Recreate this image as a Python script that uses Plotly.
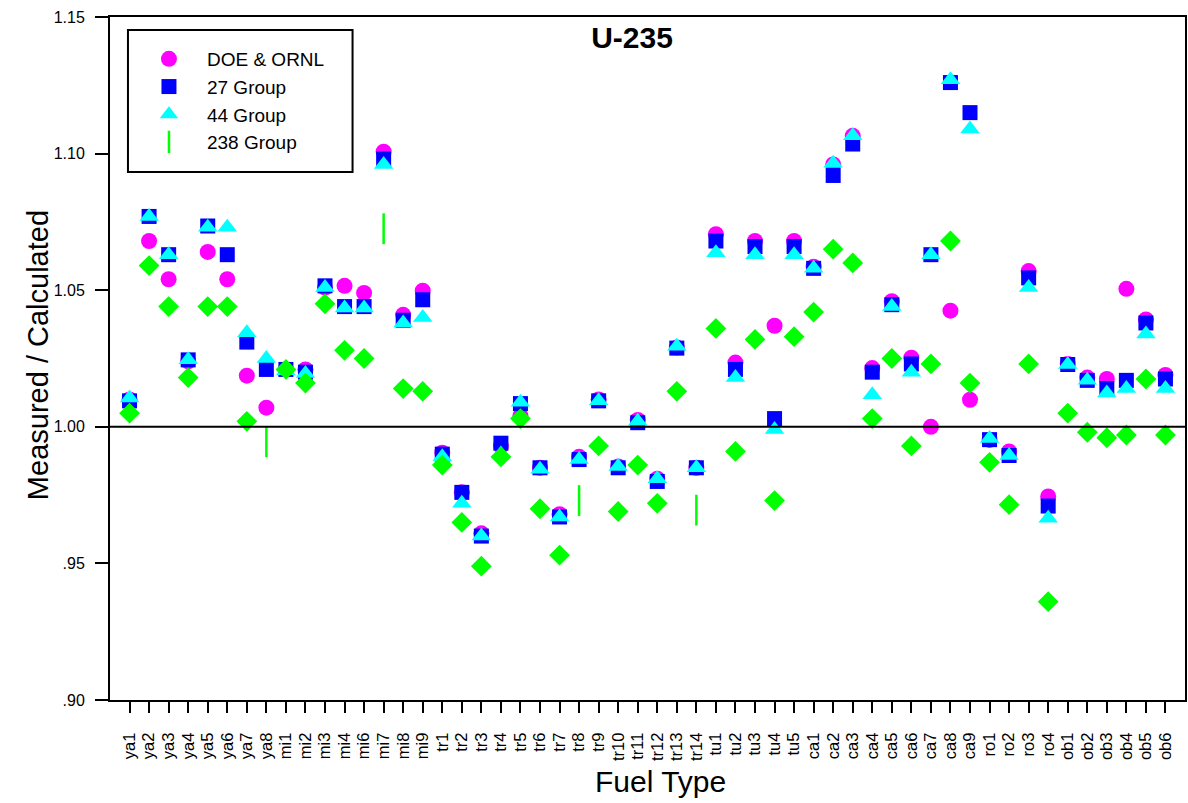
import plotly.graph_objects as go

categories = ["ya1", "ya2", "ya3", "ya4", "ya5", "ya6", "ya7", "ya8",
              "mi1", "mi2", "mi3", "mi4", "mi6", "mi7", "mi8", "mi9",
              "tr1", "tr2", "tr3", "tr4", "tr5", "tr6", "tr7", "tr8", "tr9", "tr10",
              "tr11", "tr12", "tr13", "tr14",
              "tu1", "tu2", "tu3", "tu4", "tu5",
              "ca1", "ca2", "ca3", "ca4", "ca5", "ca6", "ca7", "ca8", "ca9",
              "ro1", "ro2", "ro3", "ro4",
              "ob1", "ob2", "ob3", "ob4", "ob5", "ob6"]

doe_ornl = [1.010, 1.068, 1.054, 1.024, 1.064, 1.054, 1.0187, 1.007,
            1.021, 1.021, 1.051, 1.0516, 1.049, 1.1007, 1.041, 1.0498,
            0.9905, 0.976, 0.961, 0.993, 1.004, 0.985, 0.968, 0.989, 1.010, 0.9855,
            1.0025, 0.981, 1.029, 0.985,
            1.0705, 1.0235, 1.068, 1.037, 1.068,
            1.0586, 1.096, 1.1065, 1.0215, 1.046, 1.0253, 1.000, 1.0425, 1.0099,
            0.9952, 0.991, 1.057, 0.9745,
            1.023, 1.018, 1.0175, 1.0505, 1.0393, 1.019]

group27 = [1.0095, 1.077, 1.063, 1.0245, 1.0735, 1.063, 1.031, 1.021,
           1.021, 1.020, 1.0516, 1.044, 1.044, 1.098, 1.039, 1.0465,
           0.990, 0.976, 0.960, 0.994, 1.0085, 0.985, 0.967, 0.988, 1.0095, 0.985,
           1.0015, 0.980, 1.0288, 0.985,
           1.068, 1.021, 1.066, 1.003, 1.066,
           1.058, 1.092, 1.1035, 1.020, 1.0447, 1.023, 1.063, 1.126, 1.115,
           0.9953, 0.9895, 1.0545, 0.971,
           1.0228, 1.017, 1.014, 1.017, 1.038, 1.0175]

group44 = [1.0105, 1.077, 1.063, 1.0245, 1.073, 1.073, 1.0344, 1.025,
           1.0205, 1.0195, 1.051, 1.0435, 1.0435, 1.096, 1.038, 1.040,
           0.989, 0.972, 0.960, 0.990, 1.009, 0.9845, 0.967, 0.988, 1.0095, 0.9855,
           1.002, 0.981, 1.0295, 0.985,
           1.0637, 1.018, 1.063, 0.999, 1.063,
           1.058, 1.0965, 1.1065, 1.0117, 1.044, 1.020, 1.063, 1.127, 1.109,
           0.9957, 0.9895, 1.051, 0.9665,
           1.0228, 1.017, 1.0124, 1.014, 1.034, 1.014]

group238_diamond = [1.005, 1.059, 1.044, 1.018, 1.044, 1.044, 1.002, None,
                    1.021, 1.016, 1.045, 1.028, 1.025, None, 1.014, 1.013,
                    0.986, 0.965, 0.949, 0.989, 1.003, 0.970, 0.953, None, 0.993, 0.969,
                    0.986, 0.972, 1.013, None,
                    1.036, 0.991, 1.032, 0.973, 1.033,
                    1.042, 1.065, 1.060, 1.003, 1.025, 0.993, 1.023, 1.068, 1.016,
                    0.987, 0.9715, 1.023, 0.936,
                    1.005, 0.998, 0.996, 0.997, 1.0175, 0.997]

group238_line = [None, None, None, None, None, None, None, 0.9945,
                 None, None, None, None, None, 1.0725, None, None,
                 None, None, None, None, None, None, None, 0.973, None, None,
                 None, None, None, 0.9695,
                 None, None, None, None, None,
                 None, None, None, None, None, None, None, None, None,
                 None, None, None, None,
                 None, None, None, None, None, None]

y_tickvals = [0.90, 0.95, 1.00, 1.05, 1.10, 1.15]
y_ticktext = [".90", ".95", "1.00", "1.05", "1.10", "1.15"]

FONT = "Liberation Sans, Arial, sans-serif"

# plot-area pixel geometry helpers (for layout placement only)
W, H = 1188, 803
PL, PR, PT, PB = 110, 1187, 17, 700
def px_x(p):
    return (p - PL) / (PR - PL)
def px_y(p):
    return 1 - (p - PT) / (PB - PT)

fig = go.Figure()
fig.add_trace(go.Scatter(x=categories, y=doe_ornl, mode="markers", name="DOE & ORNL",
                         marker=dict(symbol="circle", size=16, color="#FF00FF", line=dict(width=0))))
fig.add_trace(go.Scatter(x=categories, y=group27, mode="markers", name="27 Group",
                         marker=dict(symbol="square", size=15, color="#0000FF", line=dict(width=0))))
fig.add_trace(go.Scatter(x=categories, y=group44, mode="markers", name="44 Group",
                         marker=dict(symbol="triangle-up", size=17, color="#00FFFF", line=dict(width=0))))
fig.add_trace(go.Scatter(x=categories, y=group238_diamond, mode="markers", name="238 Group",
                         showlegend=False, legendgroup="g238",
                         marker=dict(symbol="diamond", size=16, color="#00FF00", line=dict(width=0))))
fig.add_trace(go.Scatter(x=categories, y=group238_line, mode="markers", name="238 Group",
                         legendgroup="g238",
                         marker=dict(symbol="line-ns", size=22, color="#00FF00",
                                     line=dict(width=2.5, color="#00FF00"))))
# empty trace that carries the label-only overlay axes
fig.add_trace(go.Scatter(x=[None], y=[None], xaxis="x2", yaxis="y2", mode="markers",
                         showlegend=False, hoverinfo="skip"))

fig.add_hline(y=1.0, line=dict(color="black", width=2))

# legend frame
fig.add_shape(type="rect", xref="paper", yref="paper",
              x0=px_x(128), x1=px_x(353), y0=px_y(172), y1=px_y(30),
              line=dict(color="black", width=2), fillcolor="rgba(0,0,0,0)", layer="above")

# axis titles
fig.add_annotation(text="Measured / Calculated", xref="paper", yref="paper",
                   x=px_x(38), y=px_y(355), xanchor="center", yanchor="middle",
                   textangle=-90, showarrow=False, font=dict(size=29, family=FONT))
fig.add_annotation(text="Fuel Type", xref="paper", yref="paper",
                   x=px_x(662), y=px_y(781), xanchor="center", yanchor="middle",
                   showarrow=False, font=dict(size=30, family=FONT))

fig.update_layout(
    width=W, height=H,
    margin=dict(l=PL, r=W - PR, t=PT, b=H - PB),
    paper_bgcolor="white", plot_bgcolor="white",
    font=dict(family=FONT, color="black"),
    title=dict(text="<b>U-235</b>", x=632 / W, xanchor="center",
               y=1 - 37 / H, yanchor="middle", font=dict(size=30, family=FONT)),
    showlegend=True,
    legend=dict(x=px_x(131), y=px_y(40), xanchor="left", yanchor="top",
                borderwidth=0, bgcolor="rgba(0,0,0,0)",
                font=dict(size=19, family=FONT), itemsizing="trace",
                tracegroupgap=0, itemwidth=66),
    xaxis=dict(type="category", categoryorder="array", categoryarray=categories,
               range=[-1, 54], showticklabels=False,
               ticks="outside", ticklen=11, tickwidth=2, tickcolor="black",
               showline=True, linecolor="black", linewidth=2, mirror=True,
               showgrid=False, zeroline=False),
    yaxis=dict(range=[0.90, 1.15], tickvals=y_tickvals, showticklabels=False,
               ticks="outside", ticklen=13, tickwidth=2, tickcolor="black",
               showline=True, linecolor="black", linewidth=2, mirror=True,
               showgrid=False, zeroline=False),
    xaxis2=dict(overlaying="x", anchor="y2", side="bottom", type="linear",
                range=[-1, 54], tickmode="array",
                tickvals=list(range(len(categories))), ticktext=categories,
                tickangle=-90, tickfont=dict(size=16.5, family=FONT),
                ticks="outside", ticklen=25, tickcolor="rgba(0,0,0,0)",
                showline=False, showgrid=False, zeroline=False),
    yaxis2=dict(overlaying="y", anchor="x2", side="left", range=[0.90, 1.15],
                tickmode="array", tickvals=y_tickvals, ticktext=y_ticktext,
                tickfont=dict(size=16, family=FONT),
                ticks="outside", ticklen=21, tickcolor="rgba(0,0,0,0)",
                showline=False, showgrid=False, zeroline=False),
)

fig.write_html("out.html")
